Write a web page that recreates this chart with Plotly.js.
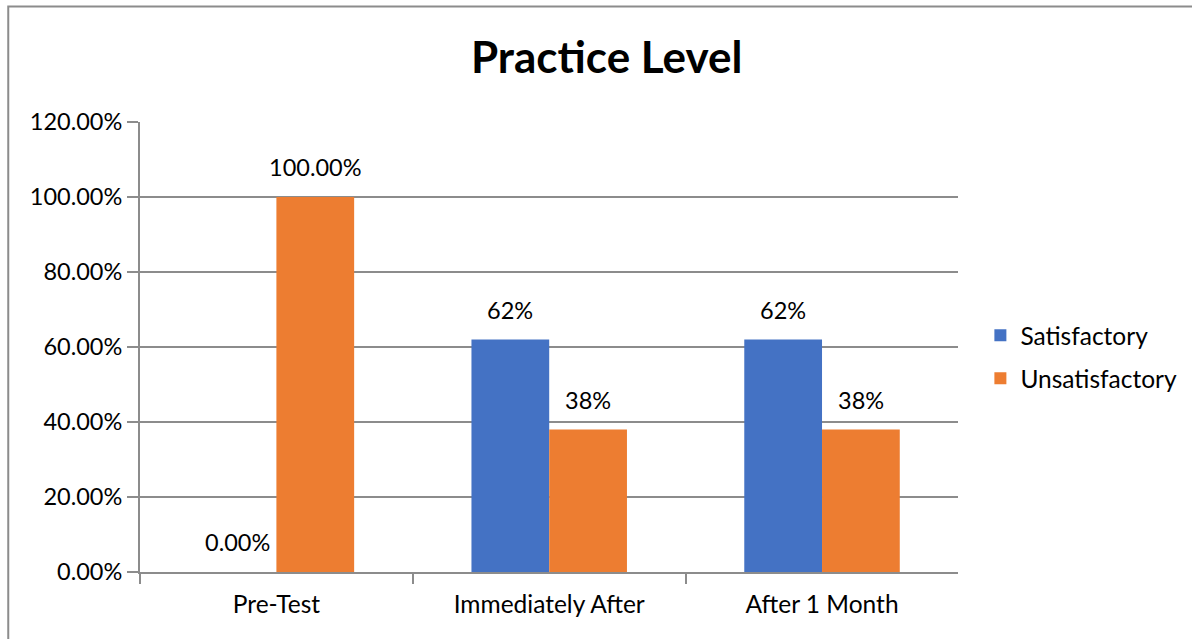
<!DOCTYPE html>
<html>
<head>
<meta charset="utf-8">
<script src="https://cdn.plot.ly/plotly-3.0.1.min.js"></script>
<style>
  html, body { margin: 0; padding: 0; background: #fff; }
  #chart { width: 1192px; height: 639px; }
</style>
</head>
<body>
<div id="chart"></div>
<script>
const categories = ["Pre-Test", "Immediately After", "After 1 Month"];
const satisfactory = [0.00, 0.62, 0.62];
const unsatisfactory = [1.00, 0.38, 0.38];
const satisfactoryLabels = ["0.00%", "62%", "62%"];
const unsatisfactoryLabels = ["100.00%", "38%", "38%"];
const yTicks = [0, 0.2, 0.4, 0.6, 0.8, 1.0, 1.2];

const FONT = "Lato, 'Open Sans', sans-serif";
const GRID = "#8c8c8c";
const LABEL_SIZE = 23.5;
const CAT_SIZE = 24.5;

// paper spans x 140..1182 px; plot area occupies 140..960 px
const PAPER_W = 1042;
const PLOT_W = 820;

const traces = [
  {
    type: "bar", name: "Satisfactory", x: categories, y: satisfactory,
    marker: { color: "#4472C4" }, hoverinfo: "skip", legendgroup: "a"
  },
  {
    type: "bar", name: "Unsatisfactory", x: categories, y: unsatisfactory,
    marker: { color: "#ED7D31" }, hoverinfo: "skip", legendgroup: "b"
  }
];

const annotations = [];
categories.forEach((c, i) => {
  annotations.push({
    x: c, y: satisfactory[i], xref: "x", yref: "y",
    text: satisfactoryLabels[i], showarrow: false,
    xshift: -39, yshift: 30, yanchor: "middle",
    font: { family: FONT, size: LABEL_SIZE, color: "#000" }
  });
  annotations.push({
    x: c, y: unsatisfactory[i], xref: "x", yref: "y",
    text: unsatisfactoryLabels[i], showarrow: false,
    xshift: 39, yshift: 30, yanchor: "middle",
    font: { family: FONT, size: LABEL_SIZE, color: "#000" }
  });
});

const layout = {
  width: 1192, height: 639,
  margin: { l: 140, r: 1192 - 140 - PAPER_W, t: 122, b: 67, pad: 0 },
  paper_bgcolor: "#fff", plot_bgcolor: "#fff",
  font: { family: FONT, size: LABEL_SIZE, color: "#000" },
  title: {
    text: "<b>Practice Level</b>",
    font: { family: FONT, size: 44, color: "#000" },
    x: 0.509, xanchor: "center", xref: "container",
    y: 0.91, yanchor: "middle"
  },
  barmode: "group",
  bargap: 0.43,
  bargroupgap: 0,
  xaxis: {
    type: "category",
    domain: [0, PLOT_W / PAPER_W],
    showline: true, linecolor: GRID, linewidth: 2,
    ticks: "outside", tickson: "boundaries", ticklen: 10, tickwidth: 2, tickcolor: GRID,
    showgrid: false,
    tickfont: { family: FONT, size: CAT_SIZE, color: "#000" },
    ticklabelstandoff: 10
  },
  yaxis: {
    range: [0, 1.2], tickvals: yTicks, tickformat: ".2%",
    showline: true, linecolor: GRID, linewidth: 2,
    ticks: "outside", ticklen: 11, tickwidth: 2, tickcolor: GRID,
    showgrid: true, gridcolor: GRID, gridwidth: 2,
    zeroline: false,
    tickfont: { family: FONT, size: LABEL_SIZE, color: "#000" }
  },
  legend: {
    x: (982 - 140) / PAPER_W, xanchor: "left", y: 0.478, yanchor: "middle",
    font: { family: FONT, size: CAT_SIZE, color: "#000" },
    traceorder: "grouped", tracegroupgap: 8
  },
  annotations: annotations,
  shapes: [{
    type: "rect", xref: "paper", yref: "paper",
    x0: -132 / PAPER_W, x1: 1.2, y0: -0.3, y1: 1.2567,
    line: { color: "#8c8c8c", width: 2 }, fillcolor: "rgba(0,0,0,0)", layer: "below"
  }]
};

Plotly.newPlot("chart", traces, layout, { displayModeBar: false, staticPlot: true });
</script>
</body>
</html>
